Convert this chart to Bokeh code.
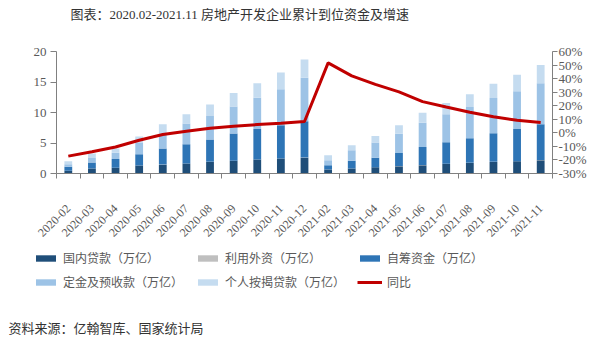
import numpy as np
from bokeh.plotting import figure
from bokeh.models import (Range1d, LinearAxis, FixedTicker, Legend, LegendItem, Label,
                          ColumnDataSource, PrintfTickFormatter, CustomJSTickFormatter)
from bokeh.embed import file_html
from bokeh.resources import INLINE

months = ["2020-02", "2020-03", "2020-04", "2020-05", "2020-06", "2020-07", "2020-08",
          "2020-09", "2020-10", "2020-11", "2020-12", "2021-02", "2021-03", "2021-04",
          "2021-05", "2021-06", "2021-07", "2021-08", "2021-09", "2021-10", "2021-11"]

domestic_loans = [0.44, 0.82, 0.93, 1.30, 1.45, 1.63, 1.90, 2.07, 2.29, 2.45, 2.60,
                  0.65, 0.82, 1.03, 1.20, 1.36, 1.58, 1.74, 1.90, 2.00, 2.18]
foreign_capital = [0.01, 0.01, 0.01, 0.02, 0.02, 0.02, 0.02, 0.02, 0.02, 0.02, 0.02,
                   0.01, 0.01, 0.01, 0.02, 0.02, 0.02, 0.02, 0.02, 0.02, 0.02]
self_raised = [0.64, 0.97, 1.43, 1.84, 2.61, 3.15, 3.64, 4.45, 4.99, 5.43, 5.93,
               0.70, 1.24, 1.56, 2.16, 2.98, 3.52, 4.01, 4.68, 5.28, 5.86]
deposits = [0.44, 0.76, 1.03, 1.84, 2.42, 3.40, 3.86, 4.46, 5.10, 5.93, 7.15,
            0.82, 1.73, 2.47, 3.12, 3.97, 4.58, 5.13, 5.76, 6.20, 6.74]
mortgages = [0.49, 0.71, 0.70, 1.08, 1.56, 1.50, 1.91, 2.20, 2.40, 2.73, 3.00,
             0.82, 0.83, 1.08, 1.40, 1.64, 1.85, 2.10, 2.34, 2.70, 3.00]
yoy_growth = [-17.2, -14.0, -10.5, -5.5, -1.2, 1.2, 3.4, 4.9, 6.1, 7.1, 8.4,
              51.6, 42.0, 35.7, 30.2, 23.0, 19.0, 15.2, 11.8, 9.3, 7.6]

series_names = ["国内贷款（万亿）", "利用外资（万亿）", "自筹资金（万亿）",
                "定金及预收款（万亿）", "个人按揭贷款（万亿）"]
line_name = "同比"
left_ticks = [0, 5, 10, 15, 20]
right_ticks = [-30, -20, -10, 0, 10, 20, 30, 40, 50, 60]
title_text = "图表：2020.02-2021.11 房地产开发企业累计到位资金及增速"
source_text = "资料来源：亿翰智库、国家统计局"

colors = ["#1F4E79", "#BFBFBF", "#2E75B6", "#9DC3E6", "#C5DCF0"]
keys = ["d", "f", "s", "p", "m"]

n = len(months)
xpos = [i + 0.5 for i in range(n)]
source = ColumnDataSource(dict(x=xpos, d=domestic_loans, f=foreign_capital, s=self_raised,
                               p=deposits, m=mortgages, g=yoy_growth))

SERIF = "Liberation Serif, Noto Sans CJK SC"
CJK = "Noto Sans CJK SC"
GRAY = "#595959"
AXIS = "#808080"


def blank(height):
    f = figure(width=600, height=height, output_backend="svg", toolbar_location=None,
               x_range=Range1d(-3, -2), y_range=Range1d(-3, -2),
               x_axis_type=None, y_axis_type=None, min_border=0,
               min_border_left=0, min_border_right=0, min_border_top=0, min_border_bottom=0)
    f.outline_line_color = None
    f.grid.visible = False
    return f


# header
head = blank(30)
head.add_layout(Label(x=70, y=16, x_units="screen", y_units="screen", text=title_text,
                      text_font=SERIF, text_font_size="13px", text_color="#333333",
                      text_baseline="middle"))

# main chart
p = figure(width=600, height=220, output_backend="svg", toolbar_location=None,
           x_range=Range1d(0, n), y_range=Range1d(0, 20),
           x_axis_type=None, y_axis_type=None,
           min_border_left=56, min_border_right=48, min_border_top=21, min_border_bottom=77)
p.outline_line_color = None
p.grid.visible = False
p.extra_y_ranges = {"pct": Range1d(-30, 60)}

p.vbar_stack(keys, x="x", width=0.33, color=colors, line_color=None, source=source)
p.line("x", "g", source=source, y_range_name="pct", line_color="#C00000", line_width=3)

left = LinearAxis(ticker=FixedTicker(ticks=left_ticks))
right = LinearAxis(y_range_name="pct", ticker=FixedTicker(ticks=right_ticks),
                   formatter=PrintfTickFormatter(format="%d%%"))
bottom = LinearAxis(ticker=FixedTicker(ticks=xpos, minor_ticks=list(range(n + 1))),
                    formatter=CustomJSTickFormatter(args=dict(labels=months),
                                                    code="return labels[Math.floor(tick)] || '';"))
for ax in (left, right, bottom):
    ax.axis_line_color = AXIS
    ax.major_tick_line_color = AXIS
    ax.minor_tick_line_color = None
    ax.major_tick_in = 0
    ax.major_tick_out = 6
    ax.major_label_text_font = SERIF
    ax.major_label_text_font_size = "13px"
    ax.major_label_text_color = GRAY
left.major_label_standoff = 4
right.major_label_standoff = 1
right.major_tick_out = 5
bottom.major_tick_line_color = None
bottom.minor_tick_line_color = AXIS
bottom.minor_tick_in = 0
bottom.minor_tick_out = 5
bottom.major_label_orientation = np.pi / 4
bottom.major_label_standoff = 27
bottom.major_label_text_font_size = "12px"

p.add_layout(left, "left")
p.add_layout(right, "right")
p.add_layout(bottom, "below")

# legend + source footer (legend swatches come from the same data, drawn out of view)
foot = blank(90)
swatches = foot.vbar_stack(keys, x="x", width=0.33, color=colors, line_color=None, source=source)
swatches.append(foot.line("x", "g", source=source, line_color="#C00000", line_width=3))
items = [LegendItem(label=name, renderers=[r])
         for name, r in zip(series_names + [line_name], swatches)]
legend = Legend(items=items, location=(33, 50), orientation="horizontal", ncols=3,
                glyph_width=25, glyph_height=8, label_standoff=5, label_width=125,
                label_height=16, spacing=7, padding=0, margin=0,
                border_line_color=None, background_fill_alpha=0,
                label_text_font=CJK, label_text_font_size="12px", label_text_color=GRAY)
foot.add_layout(legend, "center")
foot.add_layout(Label(x=8, y=13, x_units="screen", y_units="screen", text=source_text,
                      text_font=CJK, text_font_size="13px", text_color="#333333",
                      text_baseline="middle"))

open("out.html", "w").write(file_html([head, p, foot], INLINE))
